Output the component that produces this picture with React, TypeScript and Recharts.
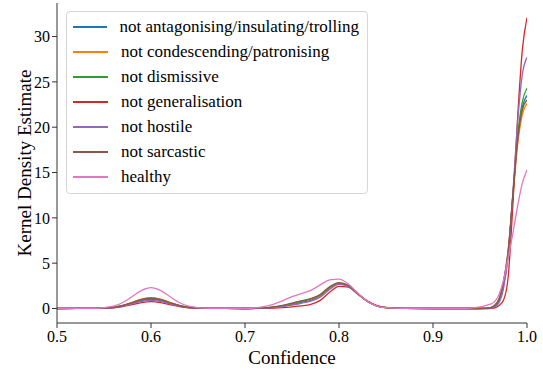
import { LineChart, Line, XAxis, YAxis, Legend } from 'recharts';

const confidence = [
  0.5, 0.54, 0.56, 0.57, 0.58, 0.59, 0.6, 0.61, 0.62, 0.63, 0.64, 0.66,
  0.7, 0.72, 0.73, 0.74, 0.75, 0.76, 0.77, 0.78, 0.79, 0.8, 0.81, 0.82, 0.83, 0.84, 0.85, 0.87, 0.9,
  0.93, 0.945, 0.955, 0.96, 0.965, 0.97, 0.975, 0.98, 0.985, 0.99, 0.995, 1.0,
];

const antagonising = [
  0, 0.01, 0.11, 0.29, 0.58, 0.87, 1.0, 0.87, 0.58, 0.29, 0.11, 0.01,
  0, 0.04, 0.12, 0.25, 0.45, 0.68, 0.9, 1.35, 2.2, 2.7, 2.45, 1.6, 0.8, 0.3, 0.1, 0.02, 0,
  0, 0, 0.01, 0.04, 0.2, 0.8, 2.6, 6.0, 12.5, 18.7, 22.2, 23.5,
];
const condescending = [
  0, 0.01, 0.13, 0.34, 0.69, 1.04, 1.2, 1.04, 0.69, 0.34, 0.13, 0.01,
  0, 0.05, 0.15, 0.3, 0.55, 0.8, 1.0, 1.45, 2.3, 2.75, 2.45, 1.6, 0.8, 0.3, 0.1, 0.02, 0,
  0, 0, 0.01, 0.06, 0.3, 1.0, 2.9, 6.3, 12.2, 18.0, 21.4, 22.6,
];
const dismissive = [
  0, 0.01, 0.12, 0.32, 0.63, 0.96, 1.1, 0.96, 0.63, 0.32, 0.12, 0.01,
  0, 0.05, 0.15, 0.32, 0.55, 0.8, 1.05, 1.5, 2.35, 2.8, 2.5, 1.62, 0.8, 0.3, 0.1, 0.02, 0,
  0, 0, 0.01, 0.05, 0.25, 0.9, 2.8, 6.2, 12.5, 19.0, 22.8, 24.3,
];
const generalisation = [
  0, 0.01, 0.08, 0.22, 0.43, 0.65, 0.75, 0.65, 0.43, 0.22, 0.08, 0.01,
  0, 0.02, 0.05, 0.1, 0.18, 0.28, 0.45, 0.9, 1.8, 2.45, 2.35, 1.6, 0.85, 0.35, 0.12, 0.02, 0,
  0, 0, 0, 0, 0.05, 0.3, 0.9, 3.5, 11.5, 21.0, 28.5, 32.1,
];
const hostile = [
  0, 0.01, 0.1, 0.26, 0.52, 0.78, 0.9, 0.78, 0.52, 0.26, 0.1, 0.01,
  0, 0.03, 0.1, 0.2, 0.38, 0.58, 0.8, 1.25, 2.1, 2.65, 2.42, 1.6, 0.8, 0.3, 0.1, 0.02, 0,
  0, 0, 0, 0.02, 0.15, 0.6, 2.2, 5.8, 12.8, 20.5, 25.8, 27.7,
];
const sarcastic = [
  0, 0.01, 0.13, 0.33, 0.66, 1.0, 1.15, 1.0, 0.66, 0.33, 0.13, 0.01,
  0, 0.06, 0.17, 0.35, 0.6, 0.85, 1.1, 1.55, 2.4, 2.85, 2.55, 1.65, 0.8, 0.3, 0.1, 0.02, 0,
  0, 0, 0.01, 0.06, 0.3, 1.0, 3.0, 6.5, 12.6, 18.5, 21.9, 23.0,
];
const healthy = [
  0, 0.02, 0.25, 0.66, 1.32, 2.0, 2.3, 2.0, 1.32, 0.66, 0.25, 0.02,
  0.02, 0.2, 0.45, 0.85, 1.3, 1.65, 2.0, 2.6, 3.15, 3.25, 2.7, 1.7, 0.8, 0.3, 0.1, 0.02, 0,
  0, 0.1, 0.3, 0.45, 0.7, 1.5, 3.1, 5.6, 8.3, 11.3, 13.8, 15.3,
];

const xTicks = [0.5, 0.6, 0.7, 0.8, 0.9, 1.0];
const yTicks = [0, 5, 10, 15, 20, 25, 30];

const series = [
  { key: 'antagonising', name: 'not antagonising/insulating/trolling', color: '#1f77b4', values: antagonising },
  { key: 'condescending', name: 'not condescending/patronising', color: '#ff7f0e', values: condescending },
  { key: 'dismissive', name: 'not dismissive', color: '#2ca02c', values: dismissive },
  { key: 'generalisation', name: 'not generalisation', color: '#d62728', values: generalisation },
  { key: 'hostile', name: 'not hostile', color: '#9467bd', values: hostile },
  { key: 'sarcastic', name: 'not sarcastic', color: '#8c564b', values: sarcastic },
  { key: 'healthy', name: 'healthy', color: '#e377c2', values: healthy },
];

const data = confidence.map((x, i) => {
  const row: Record<string, number> = { x };
  series.forEach((s) => {
    row[s.key] = s.values[i];
  });
  return row;
});

const FONT = "'Liberation Serif', Tinos, 'Times New Roman', Times, 'Noto Serif', 'DejaVu Serif', FreeSerif, serif";
const tickStyle = { fill: '#000', fontSize: 16, fontFamily: FONT };

function KdeLegend() {
  return (
    <div
      style={{
        border: '1px solid #d6d6d6',
        borderRadius: 4,
        background: '#fff',
        padding: '2px 8px 4px 6px',
        fontFamily: FONT,
        fontSize: 17,
        color: '#000',
        width: 286,
      }}
    >
      {series.map((s) => (
        <div key={s.key} style={{ display: 'flex', alignItems: 'center', height: 25 }}>
          <span
            style={{ display: 'inline-block', width: 35, height: 2, background: s.color, marginRight: 13 }}
          />
          <span style={{ whiteSpace: 'nowrap' }}>{s.name}</span>
        </div>
      ))}
    </div>
  );
}

export default function App() {
  return (
    <div style={{ position: 'absolute', left: 0, top: 0, background: '#fff', fontFamily: FONT }}>
      <LineChart width={543} height={369} data={data} margin={{ top: 3, right: 16, bottom: 0, left: 0 }}>
        <XAxis
          dataKey="x"
          type="number"
          domain={[0.5, 1.0]}
          ticks={xTicks}
          tickFormatter={(v) => v.toFixed(1)}
          allowDataOverflow
          height={46}
          stroke="#333"
          tick={tickStyle}
          tickSize={5}
          tickMargin={3}
          label={{ value: 'Confidence', position: 'insideBottom', offset: 5, fill: '#000', fontSize: 19, fontFamily: FONT }}
        />
        <XAxis xAxisId="top" dataKey="x" type="number" domain={[0.5, 1.0]} orientation="top" tick={false} tickLine={false} height={0} stroke="#666" />
        <YAxis
          type="number"
          domain={[-1.6, 33.7]}
          ticks={yTicks}
          allowDataOverflow
          width={57}
          stroke="#333"
          tick={tickStyle}
          tickSize={5}
          tickMargin={2}
          label={{ value: 'Kernel Density Estimate', angle: -90, position: 'center', dx: -4, fill: '#000', fontSize: 19, fontFamily: FONT }}
        />
        <YAxis yAxisId="right" orientation="right" tick={false} tickLine={false} width={0} stroke="#333" domain={[-1.6, 33.7]} />
        <Legend
          layout="vertical"
          verticalAlign="middle"
          align="center"
          wrapperStyle={{ top: 11, left: 66, width: 'auto' }}
          content={() => <KdeLegend />}
        />
        {series.map((s) => (
          <Line
            key={s.key}
            type="monotone"
            dataKey={s.key}
            name={s.name}
            stroke={s.color}
            strokeWidth={1.3}
            dot={false}
            isAnimationActive={false}
          />
        ))}
      </LineChart>
    </div>
  );
}
